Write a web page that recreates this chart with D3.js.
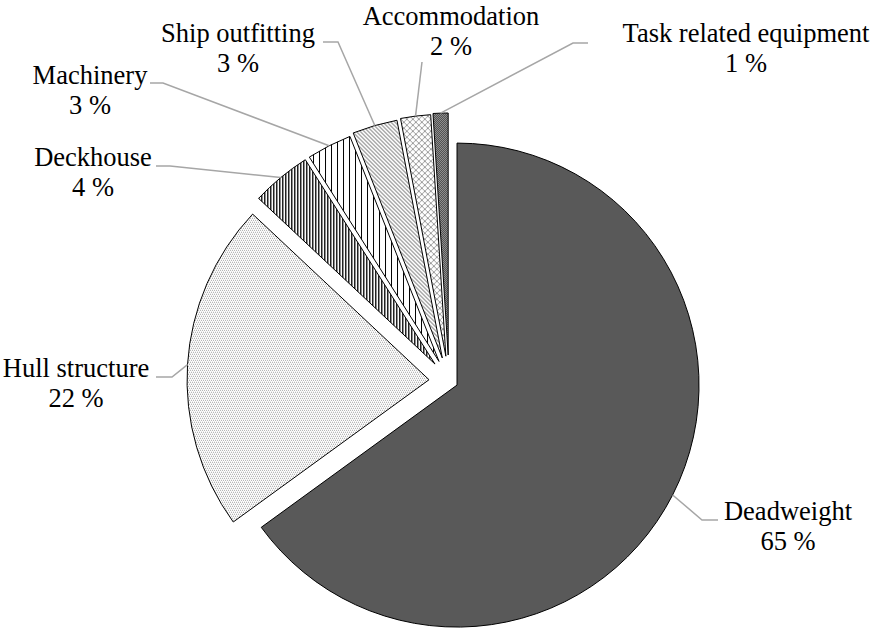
<!DOCTYPE html>
<html>
<head>
<meta charset="utf-8">
<script src="https://cdn.jsdelivr.net/npm/d3@7"></script>
<style>
  html, body { margin: 0; padding: 0; background: #fff; }
  svg { display: block; }
  text { font-family: "Liberation Serif", "Times New Roman", serif; font-size: 26.5px; fill: #000; }
</style>
</head>
<body>
<svg id="chart" width="877" height="630"></svg>
<script>
// Mass breakdown of the vessel (percent of total)
const categories = ["Deadweight", "Hull structure", "Deckhouse", "Machinery",
                    "Ship outfitting", "Accommodation", "Task related equipment"];
const shares = [65, 22, 4, 3, 3, 2, 1];
const percentLabels = ["65 %", "22 %", "4 %", "3 %", "3 %", "2 %", "1 %"];

// Fill pattern id for each slice
const fills = ["solid", "pHull", "pDeck", "pMach", "pShip", "pAccom", "pTask"];
// How far each slice is pulled out from the centre (px)
const explode = [9, 20, 22, 22, 24, 25, 26];
// Label centre x and first baseline y
const labelX = [788, 76, 93, 90, 238, 451, 746];
const labelY = [520, 377, 166, 84, 42, 25, 42];
// Leader elbow and end points
const leaderElbow = [[702, 520], [172, 377], [170, 166], [163, 83], [338, 42], null, [573, 43]];
const leaderEnd   = [[718, 520], [156, 377], [156, 166], [150, 83], [323, 42], [422, 62], [588, 43]];

const width = 877, height = 630;
const cx = 449, cy = 381, radius = 242;

const svg = d3.select("#chart");
const defs = svg.append("defs");

function pattern(id, w, h, draw) {
  const p = defs.append("pattern")
    .attr("id", id).attr("patternUnits", "userSpaceOnUse")
    .attr("width", w).attr("height", h);
  p.append("rect").attr("width", w).attr("height", h).attr("fill", "#fff");
  draw(p);
}
function px(p, pts, color) {
  pts.forEach(([x, y]) => p.append("rect").attr("x", x).attr("y", y)
    .attr("width", 1).attr("height", 1).attr("fill", color)
    .attr("shape-rendering", "crispEdges"));
}

// Hull structure: fine grey dot grid
pattern("pHull", 4, 4, p => px(p, [[0, 0], [2, 0], [1, 2], [3, 2]], "#9a9a9a"));
// Deckhouse: dense dark vertical stripes
pattern("pDeck", 3, 1, p => {
  px(p, [[0, 0]], "#1e1e1e"); px(p, [[1, 0]], "#8c8c8c");
});
// Machinery: thin black vertical lines
pattern("pMach", 6, 1, p => px(p, [[0, 0]], "#000"));
// Ship outfitting: grey diagonal dots
pattern("pShip", 4, 4, p => px(p, [[0, 0], [1, 0], [1, 1], [2, 1], [2, 2], [3, 2], [3, 3], [0, 3]], "#a8a8a8"));
// Accommodation: grey diamond lattice
pattern("pAccom", 6, 6, p => {
  const pts = [];
  for (let i = 0; i < 6; i++) { pts.push([i, i]); pts.push([5 - i, i]); }
  px(p, pts, "#9a9a9a");
});
// Task related equipment: dark checker
pattern("pTask", 2, 2, p => {
  px(p, [[0, 0], [1, 1]], "#404040"); px(p, [[1, 0], [0, 1]], "#a0a0a0");
});

const pie = d3.pie().sort(null).value(d => d);
const arcs = pie(shares);
const arc = d3.arc().innerRadius(0).outerRadius(radius);

const g = svg.append("g").attr("transform", `translate(${cx},${cy})`);

function offset(a, dist) {
  const mid = (a.startAngle + a.endAngle) / 2;
  return [Math.sin(mid) * dist, -Math.cos(mid) * dist];
}

g.selectAll("path.slice")
  .data(arcs)
  .join("path")
  .attr("class", "slice")
  .attr("transform", (d, i) => { const [dx, dy] = offset(d, explode[i]); return `translate(${dx},${dy})`; })
  .attr("d", arc)
  .attr("fill", (d, i) => fills[i] === "solid" ? "#595959" : `url(#${fills[i]})`)
  .attr("stroke", "#000")
  .attr("stroke-width", 1)
  .attr("stroke-linejoin", "miter");

// Leader lines from each slice's outer edge to its label
const leaders = svg.append("g");
arcs.forEach((a, i) => {
  const [ex, ey] = offset(a, explode[i] + radius);
  const pts = [[cx + ex, cy + ey]];
  if (leaderElbow[i]) pts.push(leaderElbow[i]);
  pts.push(leaderEnd[i]);
  leaders.append("path")
    .attr("d", d3.line()(pts))
    .attr("fill", "none")
    .attr("stroke", "#a6a6a6")
    .attr("stroke-width", 1.5);
});

// Category and percentage labels
const labels = svg.append("g");
categories.forEach((name, i) => {
  const t = labels.append("text").attr("text-anchor", "middle");
  t.append("tspan").attr("x", labelX[i]).attr("y", labelY[i]).text(name);
  t.append("tspan").attr("x", labelX[i]).attr("y", labelY[i] + 29.5).text(percentLabels[i]);
});
</script>
</body>
</html>
